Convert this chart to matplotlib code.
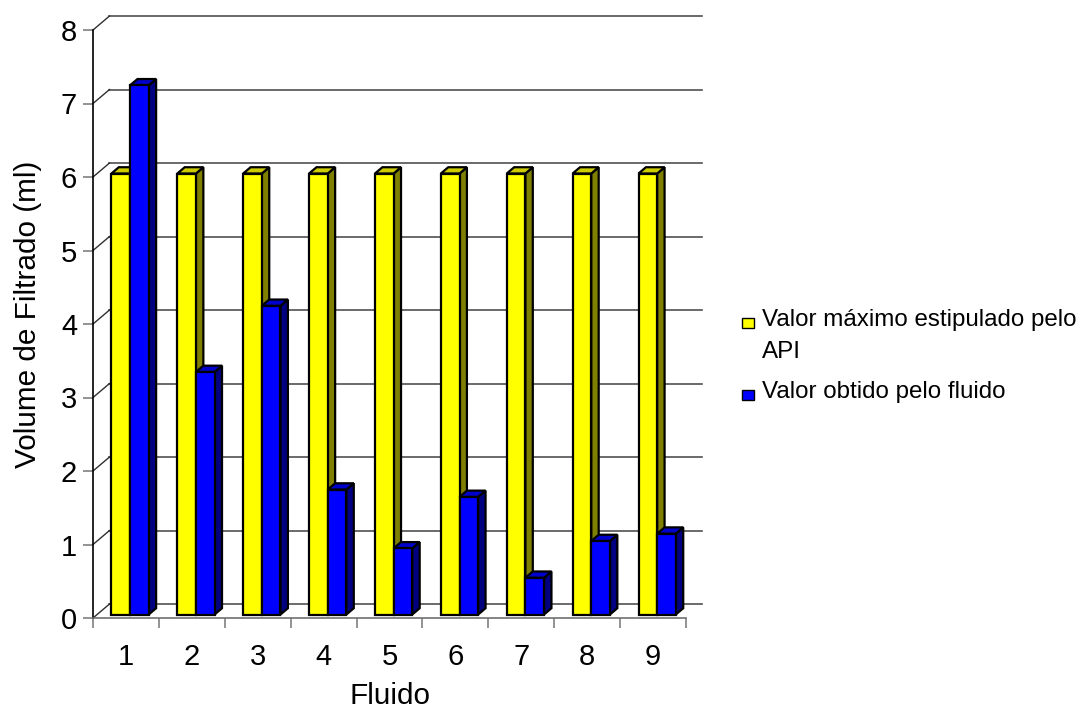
import matplotlib
matplotlib.use("Agg")
import matplotlib.pyplot as plt
from matplotlib.patches import Polygon, Rectangle
import numpy as np

# ---- data -------------------------------------------------------------
fluidos = ["1", "2", "3", "4", "5", "6", "7", "8", "9"]
valor_api = [6, 6, 6, 6, 6, 6, 6, 6, 6]
valor_obtido = [7.2, 3.3, 4.2, 1.7, 0.9, 1.6, 0.5, 1.0, 1.1]
y_ticks = [0, 1, 2, 3, 4, 5, 6, 7, 8]
legend_labels = ["Valor máximo estipulado pelo\nAPI", "Valor obtido pelo fluido"]

# ---- styling ------------------------------------------------------------
plt.rcParams['font.family'] = ['Liberation Sans', 'DejaVu Sans']
W, H = 1081, 711
FS_TICK = 21
FS_TITLE = 21.4
FS_LEG = 17.4

# face colours: front, side, top
YELLOW = ("#FFFF00", "#808000", "#CCCC00")
BLUE = ("#0000FF", "#000080", "#0000CC")

DX, DY = 0.25, 0.19      # depth of the 3-D box in data units
BAR_W = 0.283            # width of one bar
F_OFF = 0.25             # bar front position, fraction of box depth
B_DEP = 0.45             # bar depth, fraction of box depth

fig = plt.figure(figsize=(W / 100, H / 100), dpi=100)
ax = fig.add_axes([93 / W, (H - 618) / H, 593 / W, 588 / H])
ax.set_xlim(-0.5, len(fluidos) - 0.5)
ax.set_ylim(0, 8)
ax.patch.set_alpha(0)
for s in ("top", "right"):
    ax.spines[s].set_visible(False)
ax.spines["left"].set_color("black")
ax.spines["left"].set_linewidth(1.2)
ax.spines["bottom"].set_color("#707070")
ax.spines["bottom"].set_linewidth(1.2)

# back wall gridlines and side-wall diagonals
x_left, x_right = -0.5, len(fluidos) - 0.5
for v in y_ticks:
    ax.plot([x_left + DX, x_right + DX], [v + DY, v + DY], color="#505050",
            lw=1.2, clip_on=False, zorder=1)
    ax.plot([x_left, x_left + DX], [v, v + DY], color="#303030",
            lw=1.0, clip_on=False, zorder=1)


def bar3d(x0, x1, h, colors):
    ox, oy = F_OFF * DX, F_OFF * DY
    dx, dy = B_DEP * DX, B_DEP * DY
    front, side, top = colors
    kw = dict(edgecolor="black", lw=1.6, joinstyle="miter",
              clip_on=False, zorder=3)
    ax.add_patch(Polygon([(x1 + ox, oy), (x1 + ox + dx, oy + dy),
                          (x1 + ox + dx, h + oy + dy), (x1 + ox, h + oy)],
                         facecolor=side, **kw))
    ax.add_patch(Polygon([(x0 + ox, h + oy), (x0 + ox + dx, h + oy + dy),
                          (x1 + ox + dx, h + oy + dy), (x1 + ox, h + oy)],
                         facecolor=top, **kw))
    ax.add_patch(Rectangle((x0 + ox, oy), x1 - x0, h, facecolor=front, **kw))


for i in range(len(fluidos)):
    bar3d(i - BAR_W, i, valor_api[i], YELLOW)
    bar3d(i, i + BAR_W, valor_obtido[i], BLUE)

# ticks
ax.set_yticks(y_ticks)
ax.set_yticklabels([str(v) for v in y_ticks])
ax.tick_params(axis="y", direction="out", length=7.2, width=1.2,
               color="#808080", pad=4.3, labelsize=FS_TICK)
ax.set_xticks(np.arange(-0.5, len(fluidos), 1.0))
ax.set_xticklabels([])
ax.tick_params(axis="x", which="major", direction="out", length=7,
               width=1.2, color="#808080")
ax.set_xticks(np.arange(len(fluidos)), minor=True)
ax.set_xticklabels(fluidos, minor=True)
ax.tick_params(axis="x", which="minor", length=0, pad=18,
               labelsize=FS_TICK)

# axis titles
fig.text(28 / W, 1 - 314 / H, "Volume de Filtrado (ml)", rotation=90,
         ha="center", va="center", fontsize=FS_TITLE)
fig.text(390 / W, 1 - 696 / H, "Fluido", ha="center", va="center",
         fontsize=FS_TITLE)

# legend
leg_y = [323, 395]
for (colors, label, yc) in zip((YELLOW, BLUE), legend_labels, leg_y):
    fig.patches.append(Rectangle((742 / W, 1 - (yc + 5) / H), 12 / W, 10 / H,
                                 transform=fig.transFigure,
                                 facecolor=colors[0], edgecolor="black",
                                 lw=1.0))
    fig.text(762 / W, 1 - (yc - 14) / H, label, ha="left", va="top",
             fontsize=FS_LEG, linespacing=1.6)

fig.savefig("out.png", dpi=100)
